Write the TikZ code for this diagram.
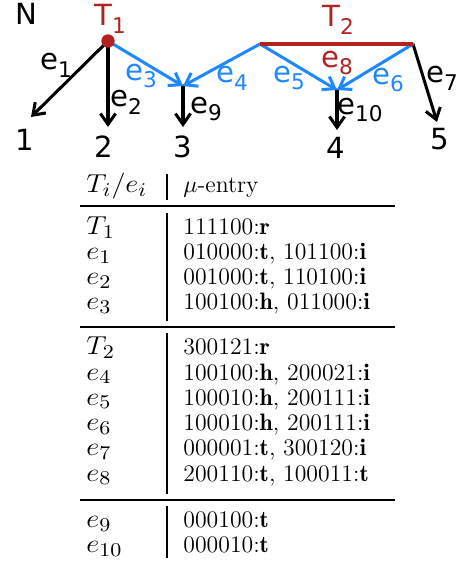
\documentclass[tikz,border=0pt]{standalone}
\usepackage{fontspec}
\newfontfamily\handfont{DejaVu Sans}
\usepackage{tikz}
\usetikzlibrary{arrows.meta,positioning}
\definecolor{treered}{RGB}{178,34,34}
\definecolor{treeblue}{RGB}{30,136,255}
\newcommand{\lab}[2]{#1\raisebox{-0.5ex}{\fontsize{10}{11}\selectfont #2}}
\newcommand{\colA}[1]{\scalebox{1.1}[1]{\fontsize{12.5}{14}\selectfont #1}}
\newcommand{\colB}[1]{{\fontsize{11}{13}\selectfont #1}}

\begin{document}
\begin{tikzpicture}[x=0.463pt,y=-0.463pt,
  edge/.style={-{Straight Barb[length=5pt,width=7pt]},line width=1.4pt,line cap=round},
  hand/.style={font=\handfont\fontsize{13.5}{15}\selectfont,inner sep=0pt},
  dot/.style={circle,fill=treered,inner sep=0pt,minimum size=6.2pt},
  cell/.style={anchor=base west,inner sep=0pt},
  rule/.style={line width=0.75pt},
  bar/.style={line width=0.5pt}
]
  \useasboundingbox (0,0) rectangle (461,561);

  % Tree points
  \coordinate (t1) at (108,41);
  \coordinate (t2l) at (260,44);
  \coordinate (t2r) at (413,44);
  \coordinate (j3) at (183,86);
  \coordinate (j4) at (337,90);
  \coordinate (p1) at (31,117);
  \coordinate (p2) at (108,127);
  \coordinate (p3) at (183,127);
  \coordinate (p4) at (337,130);
  \coordinate (p5) at (437,122);

  % Edges
  \draw[edge] (t1) -- (p1);
  \draw[edge] (t1) -- (p2);
  \draw[edge] (j3) -- (p3);
  \draw[edge] (j4) -- (p4);
  \draw[edge] (t2r) -- (p5);
  \draw[edge,treeblue] (t1) -- (j3);
  \draw[edge,treeblue] (t2l) -- (j3);
  \draw[edge,treeblue] (t2l) -- (j4);
  \draw[edge,treeblue] (t2r) -- (j4);
  \draw[line width=1.4pt,treered] (t2l) -- (t2r);
  \node[dot] (t1dot) at (t1) {};

  % Tree labels
  \node[hand] (nlab) at (26,14) {N};
  \node[hand,text=treered] (t1lab) at (110,19) {\lab{T}{1}};
  \node[hand,text=treered] (t2lab) at (338,20) {\lab{T}{2}};
  \node[hand] (e1lab) at (56,65) {\lab{e}{1}};
  \node[hand] (e2lab) at (126,102) {\lab{e}{2}};
  \node[hand,text=treeblue] (e3lab) at (141,76) {\lab{e}{3}};
  \node[hand,text=treeblue] (e4lab) at (232,78) {\lab{e}{4}};
  \node[hand,text=treeblue] (e5lab) at (289,78) {\lab{e}{5}};
  \node[hand,text=treeblue] (e6lab) at (388,80) {\lab{e}{6}};
  \node[hand] (e7lab) at (442,78) {\lab{e}{7}};
  \node[hand,text=treered] (e8lab) at (337,63) {\lab{e}{8}};
  \node[hand] (e9lab) at (206,109) {\lab{e}{9}};
  \node[hand] (e10lab) at (360,110) {\lab{e}{10}};
  \node[hand] (n1) at (25,140) {1};
  \node[hand] (n2) at (104,147) {2};
  \node[hand] (n3) at (183,147) {3};
  \node[hand] (n4) at (336,148) {4};
  \node[hand] (n5) at (440,139) {5};

  % Table
  \node[cell] (hd1) at (86,192.5) {\colA{$T_i/e_i$}};
  \node[cell] (hd2) at (183,192.5) {\colB{$\mu$-entry}};
  \foreach \k/\y/\lft/\rgt in {
      r1/234.5/{$T_1$}/{111100:$\mathbf{r}$},
      r2/259.5/{$e_1$}/{010000:$\mathbf{t}$, 101100:$\mathbf{i}$},
      r3/284.5/{$e_2$}/{001000:$\mathbf{t}$, 110100:$\mathbf{i}$},
      r4/309.5/{$e_3$}/{100100:$\mathbf{h}$, 011000:$\mathbf{i}$},
      r5/354.5/{$T_2$}/{300121:$\mathbf{r}$},
      r6/380/{$e_4$}/{100100:$\mathbf{h}$, 200021:$\mathbf{i}$},
      r7/405/{$e_5$}/{100010:$\mathbf{h}$, 200111:$\mathbf{i}$},
      r8/430.5/{$e_6$}/{100010:$\mathbf{h}$, 200111:$\mathbf{i}$},
      r9/455.5/{$e_7$}/{000001:$\mathbf{t}$, 300120:$\mathbf{i}$},
      r10/481/{$e_8$}/{200110:$\mathbf{t}$, 100011:$\mathbf{t}$},
      r11/527.5/{$e_9$}/{000100:$\mathbf{t}$},
      r12/552.5/{$e_{10}$}/{000010:$\mathbf{t}$}} {
    \node[cell] (\k a) at (86,\y) {\colA{\lft}};
    \node[cell] (\k b) at (183,\y) {\colB{\rgt}};
  }
  \draw[rule] (80,206) -- (395,206);
  \draw[rule] (80,327) -- (395,327);
  \draw[rule] (80,500) -- (395,500);
  \draw[bar] (167,174) -- (167,200);
  \draw[bar] (167,213) -- (167,321);
  \draw[bar] (167,333) -- (167,494);
  \draw[bar] (167,506) -- (167,558);
\end{tikzpicture}
\end{document}
